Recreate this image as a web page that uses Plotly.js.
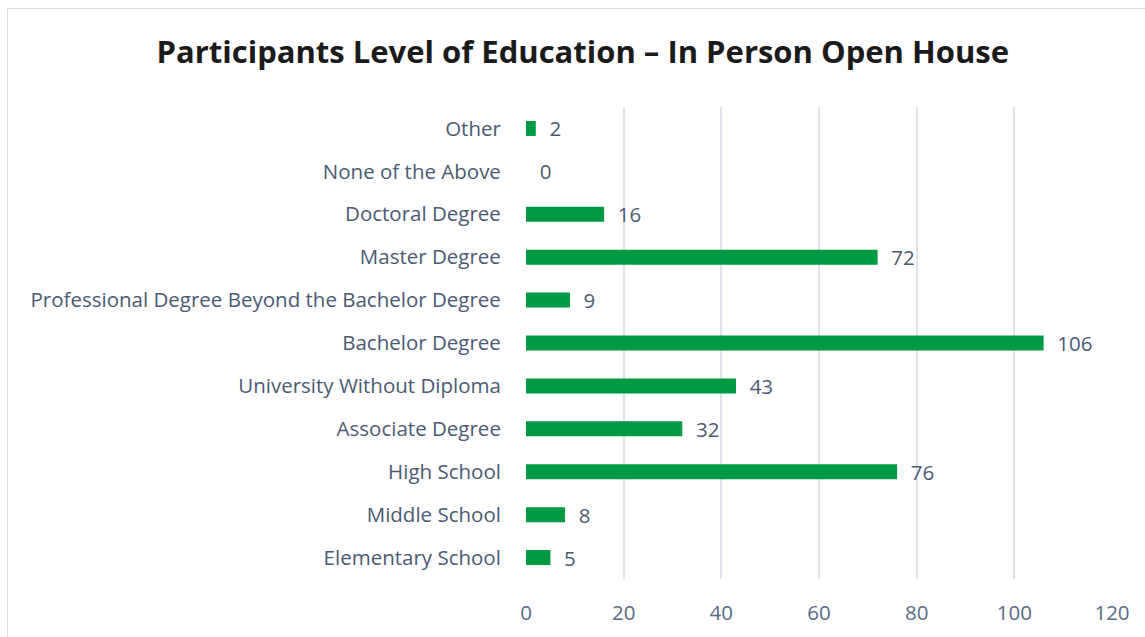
<!DOCTYPE html>
<html>
<head>
<meta charset="utf-8">
<script src="https://cdn.plot.ly/plotly-3.0.1.min.js"></script>
<style>
  html, body { margin: 0; padding: 0; background: #ffffff; }
  #wrap { position: relative; width: 1145px; height: 637px; overflow: hidden; }
  #frame { position: absolute; left: 7px; top: 8px; width: 1160px; height: 660px;
           border: 1.5px solid #d9dde6; box-sizing: border-box; pointer-events: none; }
  #chart { position: absolute; left: 0; top: 0; width: 1145px; height: 637px; }
</style>
</head>
<body>
<div id="wrap">
  <div id="chart"></div>
  <div id="frame"></div>
</div>
<script>
const categories = [
  "Elementary School",
  "Middle School",
  "High School",
  "Associate Degree",
  "University Without Diploma",
  "Bachelor Degree",
  "Professional Degree Beyond the Bachelor Degree",
  "Master Degree",
  "Doctoral Degree",
  "None of the Above",
  "Other"
];
const counts = [5, 8, 76, 32, 43, 106, 9, 72, 16, 0, 2];
const xTicks = [0, 20, 40, 60, 80, 100, 120];

const FONT = "'Open Sans', sans-serif";
const TXT = "#4a5a72";

const trace = {
  type: "bar",
  orientation: "h",
  y: categories,
  x: counts,
  marker: { color: "#009a44" },
  text: counts.map(v => "  " + v),
  textposition: "outside",
  constraintext: "none",
  cliponaxis: false,
  textfont: { family: FONT, size: 20.5, color: TXT },
  hoverinfo: "x+y"
};

const layout = {
  width: 1145,
  height: 637,
  paper_bgcolor: "rgba(0,0,0,0)",
  plot_bgcolor: "rgba(0,0,0,0)",
  margin: { l: 526, r: 33, t: 107, b: 58 },
  bargap: 0.65,
  showlegend: false,
  title: {
    text: "Participants Level of Education – In Person Open House",
    font: { family: FONT, size: 31, color: "#1b1b1b", weight: "bold" },
    x: 0.509, xanchor: "center", xref: "container",
    y: 0.918, yanchor: "middle", yref: "container"
  },
  xaxis: {
    range: [0, 120],
    tickvals: xTicks,
    ticktext: xTicks.map(String),
    showgrid: true,
    gridcolor: "#dfe3ea",
    gridwidth: 2,
    zeroline: false,
    showline: false,
    ticks: "outside",
    ticklen: 15,
    tickcolor: "rgba(0,0,0,0)",
    tickfont: { family: FONT, size: 20.5, color: "#5a6b85" },
    fixedrange: true
  },
  yaxis: {
    type: "category",
    categoryorder: "array",
    categoryarray: categories,
    showgrid: false,
    zeroline: false,
    showline: false,
    ticks: "outside",
    ticklen: 20,
    tickcolor: "rgba(0,0,0,0)",
    tickfont: { family: FONT, size: 20.5, color: TXT },
    fixedrange: true
  }
};

Plotly.newPlot("chart", [trace], layout, { displayModeBar: false, staticPlot: true });
</script>
</body>
</html>
